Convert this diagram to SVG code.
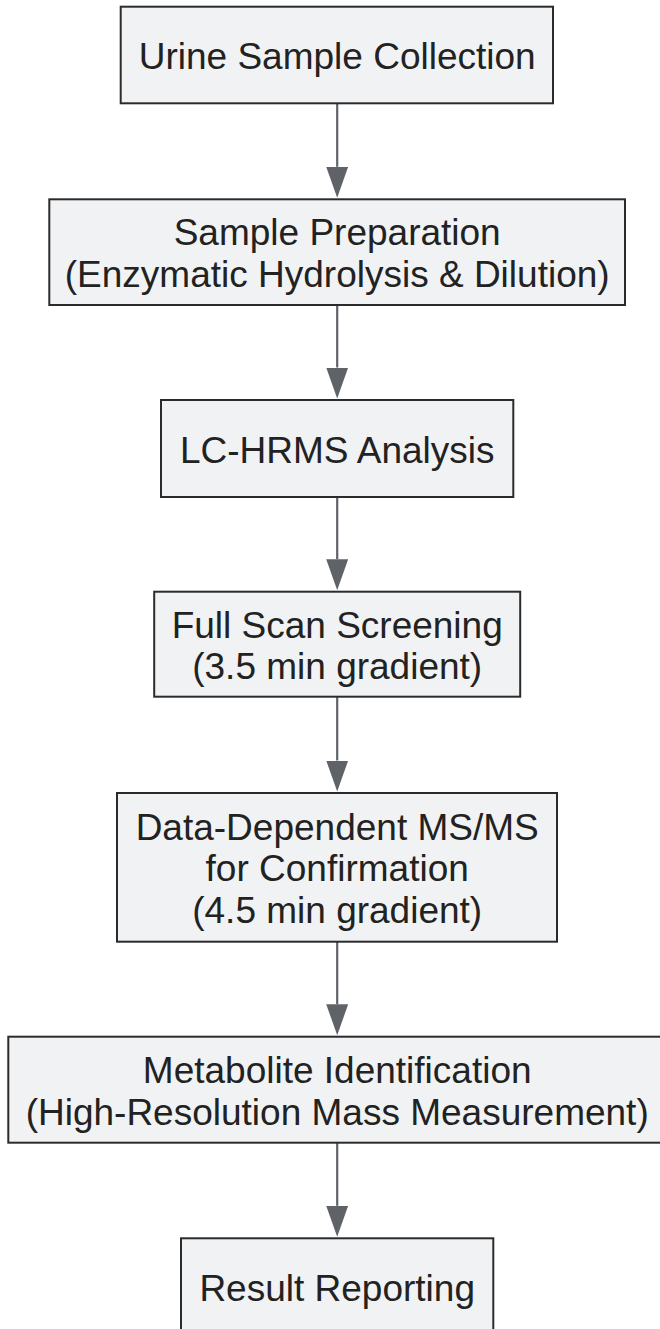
<svg xmlns="http://www.w3.org/2000/svg" width="660" height="1329" viewBox="0 0 660 1329">
<style>
.box{fill:#f1f2f4;stroke:#2b2b2b;stroke-width:2}
.lbl{font-family:"Liberation Sans",Arial,sans-serif;font-size:37px;fill:#222;text-anchor:middle}
.edge{stroke:#5f6368;stroke-width:2.2;fill:none}
</style>
<defs>
<marker id="ah" markerUnits="userSpaceOnUse" markerWidth="31" markerHeight="22" refX="0" refY="11" orient="auto">
<path d="M0,0 L31,11 L0,22 z" fill="#5f6368"/>
</marker>
</defs>
<rect width="660" height="1329" fill="#ffffff"/>
<g id="connectors">
<path class="edge" d="M337.2,103.3 V166.8" marker-end="url(#ah)"/>
<path class="edge" d="M337.2,305 V367.5" marker-end="url(#ah)"/>
<path class="edge" d="M337.2,497 V559.2" marker-end="url(#ah)"/>
<path class="edge" d="M337.2,696.7 V760.5" marker-end="url(#ah)"/>
<path class="edge" d="M337.2,941.7 V1004.2" marker-end="url(#ah)"/>
<path class="edge" d="M337.2,1142.7 V1205.8" marker-end="url(#ah)"/>
</g>
<g id="n1">
<rect class="box" x="120.7" y="6.7" width="432.3" height="96.6"/>
<text class="lbl" x="337.2" y="69">Urine Sample Collection</text>
</g>
<g id="n2">
<rect class="box" x="49.3" y="199.3" width="575.7" height="105.7"/>
<text class="lbl" x="337.2" y="245.3">Sample Preparation</text>
<text class="lbl" x="337.2" y="286.8">(Enzymatic Hydrolysis &amp; Dilution)</text>
</g>
<g id="n3">
<rect class="box" x="161" y="400" width="352.3" height="97"/>
<text class="lbl" x="337.2" y="462.5">LC-HRMS Analysis</text>
</g>
<g id="n4">
<rect class="box" x="154.2" y="591.7" width="366" height="105"/>
<text class="lbl" x="337.2" y="637.5">Full Scan Screening</text>
<text class="lbl" x="337.2" y="679">(3.5 min gradient)</text>
</g>
<g id="n5">
<rect class="box" x="117" y="793" width="440" height="148.7"/>
<text class="lbl" x="337.2" y="840">Data-Dependent MS/MS</text>
<text class="lbl" x="337.2" y="881.3">for Confirmation</text>
<text class="lbl" x="337.2" y="922.8">(4.5 min gradient)</text>
</g>
<g id="n6">
<rect class="box" x="8.3" y="1036.7" width="658" height="106"/>
<text class="lbl" x="337.2" y="1083">Metabolite Identification</text>
<text class="lbl" x="337.2" y="1124.5">(High-Resolution Mass Measurement)</text>
</g>
<g id="n7">
<rect class="box" x="181" y="1238.3" width="312.3" height="97"/>
<text class="lbl" x="337.2" y="1300.5">Result Reporting</text>
</g>
</svg>
